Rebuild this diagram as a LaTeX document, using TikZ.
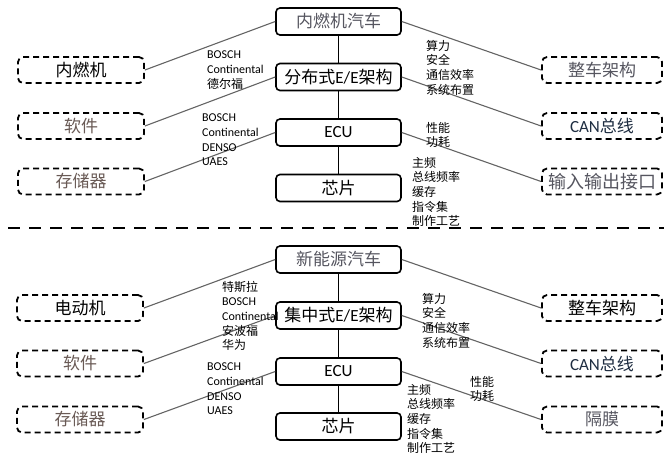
\documentclass[tikz,border=0pt]{standalone}
\usepackage{fontspec}
\setmainfont{Noto Sans CJK SC}
\newfontfamily\lat{Carlito}
\definecolor{tgray}{RGB}{85,85,95}
\definecolor{tbrown}{RGB}{105,90,85}
\definecolor{tnavy}{RGB}{30,45,65}
\definecolor{lgray}{RGB}{100,100,100}
\begin{document}
\begin{tikzpicture}[x=1pt,y=-1pt,
 solidbox/.style={draw, line width=1.6pt, rounded corners=4pt, minimum width=125pt, minimum height=27pt, inner sep=0pt, font=\fontsize{17}{20}\selectfont},
 dashbox/.style={draw, line width=1.8pt, dash pattern=on 6pt off 4pt, rounded corners=5pt, minimum height=26pt, inner sep=0pt, font=\fontsize{17}{20}\selectfont},
 leftbox/.style={dashbox, minimum width=126pt},
 rightbox/.style={dashbox, minimum width=120pt},
 conn/.style={draw=lgray, line width=1.1pt},
 stem/.style={draw=black, line width=1pt},
 lbl/.style={anchor=north west, inner sep=0pt, align=left, font=\fontsize{12}{14.6}\selectfont}
]
\useasboundingbox (0,0) rectangle (664,456);

% ---------- top section ----------
\node[solidbox, text=tgray] (a1) at (338.5,21.5) {内燃机汽车};
\node[solidbox] (a2) at (338.5,77) {分布式{\lat E/E}架构};
\node[solidbox] (a3) at (338.5,132.5) {\lat ECU};
\node[solidbox] (a4) at (338.5,188) {芯片};

\node[leftbox] (al1) at (81,70) {内燃机};
\node[leftbox, text=tbrown] (al2) at (81,126) {软件};
\node[leftbox, text=tbrown] (al3) at (81,181.5) {存储器};

\node[rightbox, text=tgray] (ar1) at (602,70) {整车架构};
\node[rightbox, text=tnavy] (ar2) at (602,126) {{\lat CAN}总线};
\node[rightbox, text=tgray, font=\fontsize{18}{20}\selectfont] (ar3) at (602,181.5) {输入输出接口};

\draw[stem] (a1) -- (a2);
\draw[stem] (a2) -- (a3);
\draw[stem] (a3) -- (a4);

\draw[conn] (al1.east) -- (a1.west);
\draw[conn] (al2.east) -- (a2.west);
\draw[conn] (al3.east) -- (a3.west);
\draw[conn] (a1.east) -- (ar1.west);
\draw[conn] (a2.east) -- (ar2.west);
\draw[conn] (a3.east) -- (ar3.west);

\node[lbl] (ta1) at (207,51) {{\lat BOSCH}\\{\lat Continental}\\德尔福};
\node[lbl] (ta2) at (202,114) {{\lat BOSCH}\\{\lat Continental}\\{\lat DENSO}\\{\lat UAES}};
\node[lbl] (ta3) at (426,40) {算力\\安全\\通信效率\\系统布置};
\node[lbl] (ta4) at (426,122) {性能\\功耗};
\node[lbl] (ta5) at (412,157) {主频\\总线频率\\缓存\\指令集\\制作工艺};

% ---------- separator ----------
\coordinate (s1) at (8,228);
\coordinate (s2) at (664,228);
\draw[line width=2.6pt, dash pattern=on 12pt off 9pt] (s1) -- (s2);

% ---------- bottom section ----------
\node[solidbox, text=tgray] (b1) at (338.5,259.5) {新能源汽车};
\node[solidbox] (b2) at (338.5,315.5) {集中式{\lat E/E}架构};
\node[solidbox] (b3) at (338.5,371.5) {\lat ECU};
\node[solidbox] (b4) at (338.5,426.5) {芯片};

\node[leftbox] (bl1) at (80,308) {电动机};
\node[leftbox, text=tbrown] (bl2) at (80,363.5) {软件};
\node[leftbox, text=tbrown] (bl3) at (80,419.5) {存储器};

\node[rightbox] (br1) at (602,308) {整车架构};
\node[rightbox, text=tnavy] (br2) at (602,363.5) {{\lat CAN}总线};
\node[rightbox, text=tgray] (br3) at (602,419.5) {隔膜};

\draw[stem] (b1) -- (b2);
\draw[stem] (b2) -- (b3);
\draw[stem] (b3) -- (b4);

\draw[conn] (bl1.east) -- (b1.west);
\draw[conn] (bl2.east) -- (b2.west);
\draw[conn] (bl3.east) -- (b3.west);
\draw[conn] (b1.east) -- (br1.west);
\draw[conn] (b2.east) -- (br2.west);
\draw[conn] (b3.east) -- (br3.west);

\node[lbl] (tb1) at (222,281) {特斯拉\\{\lat BOSCH}\\{\lat Continental}\\安波福\\华为};
\node[lbl] (tb2) at (207,363) {{\lat BOSCH}\\{\lat Continental}\\{\lat DENSO}\\{\lat UAES}};
\node[lbl] (tb3) at (422,293) {算力\\安全\\通信效率\\系统布置};
\node[lbl] (tb4) at (470,376) {性能\\功耗};
\node[lbl] (tb5) at (407,384) {主频\\总线频率\\缓存\\指令集\\制作工艺};
\end{tikzpicture}
\end{document}
